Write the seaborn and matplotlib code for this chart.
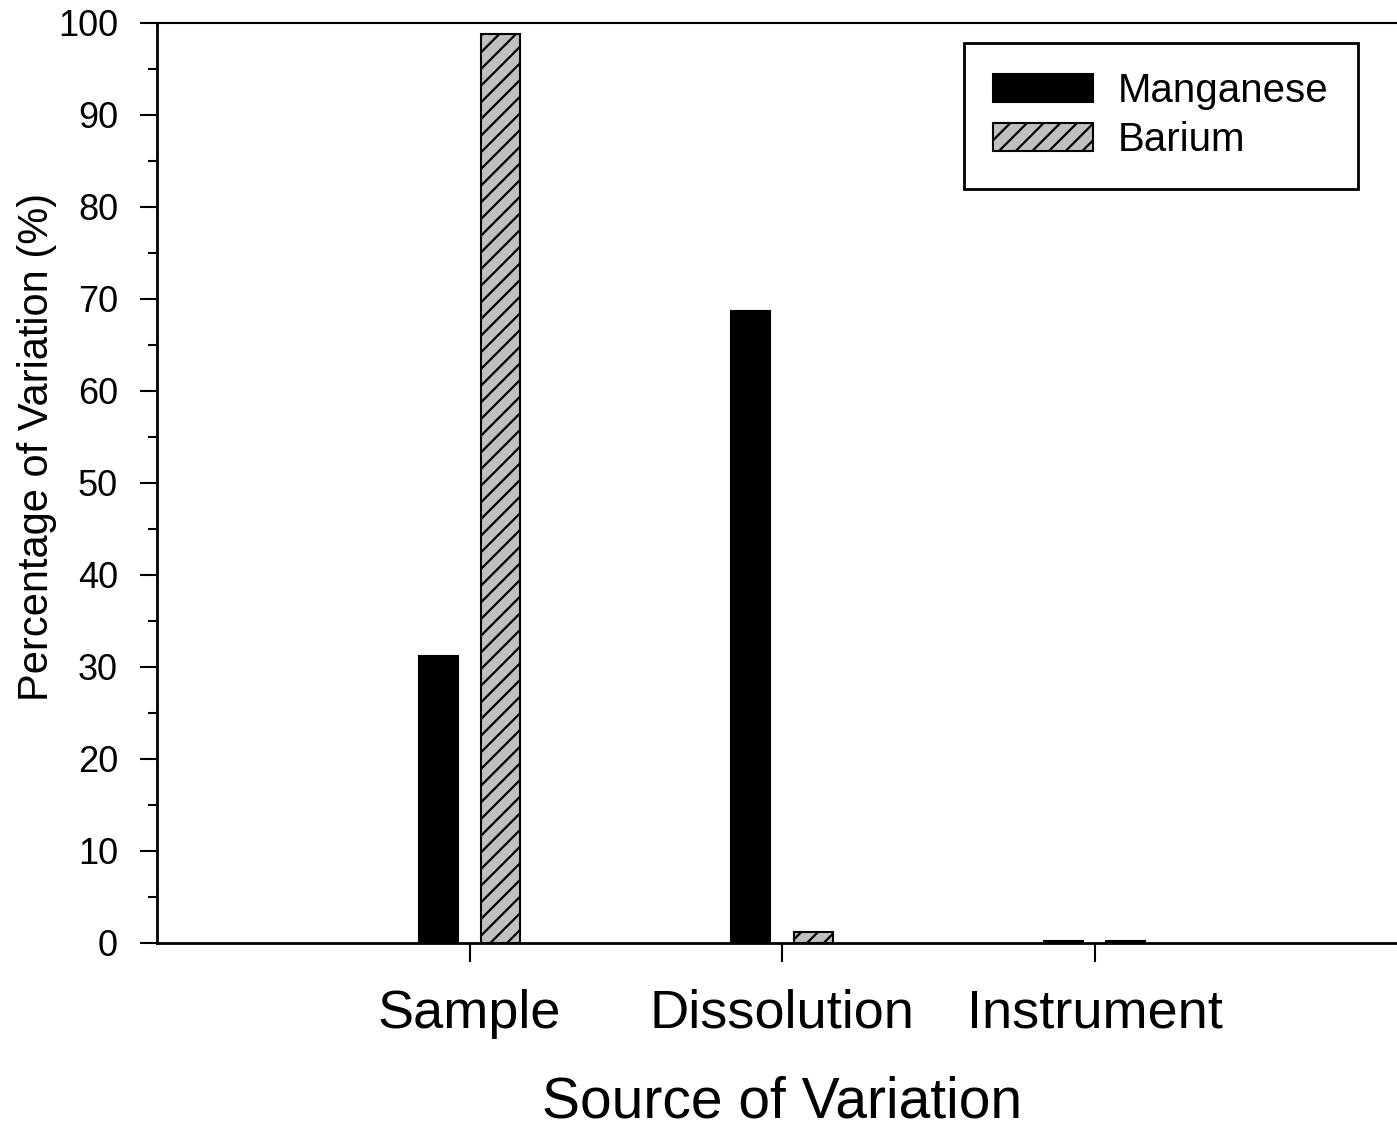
import matplotlib
matplotlib.use("Agg")
import matplotlib.pyplot as plt
import seaborn as sns
import pandas as pd
from matplotlib.patches import Patch
from matplotlib.ticker import MultipleLocator, AutoMinorLocator

sources = ["Sample", "Dissolution", "Instrument"]
elements = ["Manganese", "Barium"]
manganese = [31.2, 68.7, 0.2]
barium = [98.8, 1.2, 0.2]
y_ticks = [0, 10, 20, 30, 40, 50, 60, 70, 80, 90, 100]

df = pd.DataFrame({
    "Source": sources * 2,
    "Element": [elements[0]] * 3 + [elements[1]] * 3,
    "Value": manganese + barium,
})

sns.set_theme(style="white")
plt.rcParams["font.family"] = ["Liberation Sans", "DejaVu Sans"]
plt.rcParams["hatch.linewidth"] = 1.6
plt.rcParams["hatch.color"] = "black"
plt.rcParams["text.color"] = "black"
plt.rcParams["axes.labelcolor"] = "black"
plt.rcParams["xtick.color"] = "black"
plt.rcParams["ytick.color"] = "black"

W, H = 1397, 1128
fig = plt.figure(figsize=(W / 100, H / 100), dpi=100)
left_px, right_px, top_px, bot_px = 157, 1407, 23, 943
ax = fig.add_axes([left_px / W, 1 - bot_px / H, (right_px - left_px) / W, (bot_px - top_px) / H])

gray = "#c0c0c0"
sns.barplot(data=df, x="Source", y="Value", hue="Element", order=sources,
            hue_order=elements, palette={"Manganese": "black", "Barium": gray},
            width=0.4, gap=0.375, edgecolor="black", linewidth=1.5,
            saturation=1, ax=ax, legend=False)

for p in ax.containers[1]:
    p.set_hatch("//")
    p.set_edgecolor("black")

ax.set_xlim(-1, 3)
ax.set_ylim(0, 100)
ax.yaxis.set_major_locator(MultipleLocator(10))
ax.yaxis.set_minor_locator(AutoMinorLocator(2))
ax.set_yticks(y_ticks)

for s in ["left", "bottom"]:
    ax.spines[s].set_linewidth(2)
    ax.spines[s].set_color("black")
ax.spines["top"].set_linewidth(1.5)
ax.spines["top"].set_color("black")
ax.spines["right"].set_visible(False)

ax.tick_params(axis="y", which="major", direction="out", length=12, width=1.5,
               labelsize=26, pad=16, color="black", labelcolor="black", left=True)
ax.tick_params(axis="y", which="minor", direction="out", length=6.5, width=1.5,
               color="black", left=True)
ax.tick_params(axis="x", which="major", direction="out", length=14, width=1.5,
               labelsize=39, pad=19, color="black", labelcolor="black", bottom=True)

ax.set_xlabel("Source of Variation", fontsize=41, color="black")
ax.set_ylabel("Percentage of Variation (%)", fontsize=30, color="black")
ax.xaxis.set_label_coords((782 - left_px) / (right_px - left_px), -(1103 - bot_px) / (bot_px - top_px))
ax.yaxis.set_label_coords(-(left_px - 37) / (right_px - left_px), (bot_px - 447) / (bot_px - top_px))
ax.xaxis.label.set_va("center")
ax.yaxis.label.set_va("center")

fs = 29
handles = [Patch(facecolor="black", edgecolor="black", linewidth=1.5),
           Patch(facecolor=gray, edgecolor="black", hatch="//", linewidth=1.5)]
leg = fig.legend(handles, elements, loc="upper left",
                 bbox_to_anchor=(964 / W, 1 - 43 / H), bbox_transform=fig.transFigure,
                 fontsize=fs, frameon=True, fancybox=False, shadow=False,
                 handlelength=72 / fs, handleheight=20 / fs, handletextpad=18 / fs,
                 borderpad=21 / fs, labelspacing=0.28, borderaxespad=0)
for t in leg.get_texts():
    t.set_color("black")
leg.get_frame().set_edgecolor("black")
leg.get_frame().set_linewidth(2)
leg.get_frame().set_facecolor("white")
leg.get_frame().set_alpha(1)

fig.savefig("out.png", dpi=100)
